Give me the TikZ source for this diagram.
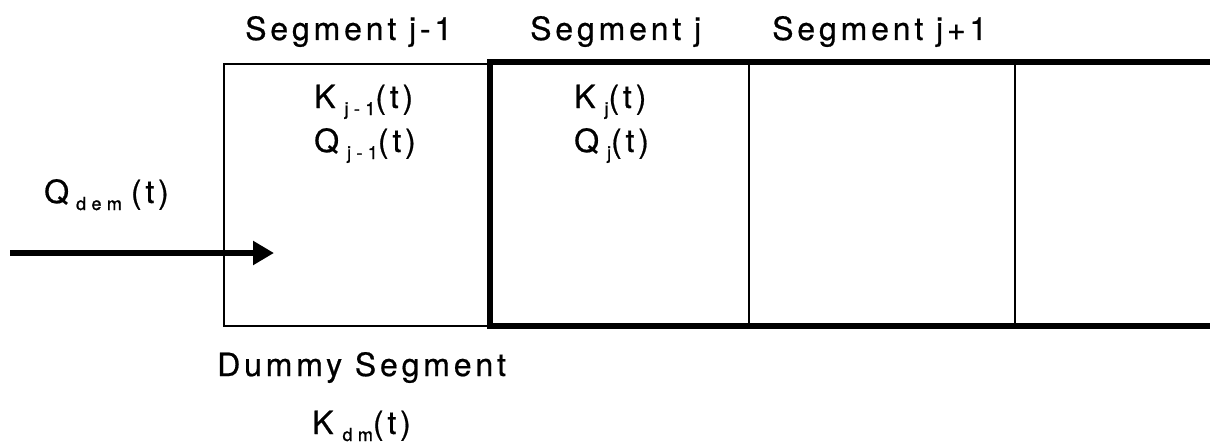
\documentclass[tikz,border=0pt]{standalone}
\usepackage{fontspec}
\setmainfont{TeX Gyre Heros}[LetterSpace=12,FakeBold=0.6]
\usetikzlibrary{arrows.meta}

% lowered small index used after K and Q
\newcommand\lowidx[1]{\raisebox{-7pt}{\fontsize{18}{18}\selectfont\addfontfeature{LetterSpace=30,FakeBold=1.2}#1}}

\begin{document}
\begin{tikzpicture}[x=1pt,y=-1pt,
  lbl/.style={inner sep=0pt,anchor=base west,font=\fontsize{32}{38}\selectfont},
  thinline/.style={line width=2pt},
  gridline/.style={line width=1.4pt},
  heavyline/.style={line width=5.5pt,line join=miter},
  feed/.style={line width=6pt,-{Triangle[length=21pt,width=23pt]}}]
\useasboundingbox (0,0) rectangle (1210,444);

% corners of the segments
\coordinate (dTL) at (224,64);
\coordinate (dBL) at (224,326);
\coordinate (sTL) at (490,62);
\coordinate (sBL) at (490,326);
\coordinate (sTR) at (1210,62);
\coordinate (sBR) at (1210,326);
\coordinate (aT) at (749,62);
\coordinate (aB) at (749,326);
\coordinate (bT) at (1015,62);
\coordinate (bB) at (1015,326);
\coordinate (fIn) at (10,253);
\coordinate (fOut) at (274,253);

% dummy segment (thin outline)
\draw[thinline] (sTL |- dTL) -- (dTL) -- (dBL) -- (sBL);
% real segments (heavy outline, open to the right)
\draw[heavyline] (sTR) -- (sTL) -- (sBL) -- (sBR);
\draw[gridline] (aT) -- (aB);
\draw[gridline] (bT) -- (bB);

% demand inflow
\draw[feed] (fIn) -- (fOut);

% labels
\node[lbl] (hA) at (245,40) {Segment j-1};
\node[lbl] (hB) at (530,40) {Segment j};
\node[lbl] (hC) at (772,40) {Segment j+1};
\node[lbl] (kA) at (314,108) {K\hspace{9pt}\lowidx{j-1}(t)};
\node[lbl] (qA) at (314,152) {Q\hspace{8pt}\lowidx{j-1}(t)};
\node[lbl] (kB) at (574,108) {K\hspace{9pt}\lowidx{j}(t)};
\node[lbl] (qB) at (574,152) {Q\hspace{8pt}\lowidx{j}(t)};
\node[lbl] (qd) at (44,203) {Q\hspace{7pt}\lowidx{dem}\hspace{9pt}(t)};
\node[lbl] (dm) at (217,376) {Dummy Segment};
\node[lbl] (kd) at (312,434) {K\hspace{9pt}\lowidx{dm}(t)};
\end{tikzpicture}
\end{document}
